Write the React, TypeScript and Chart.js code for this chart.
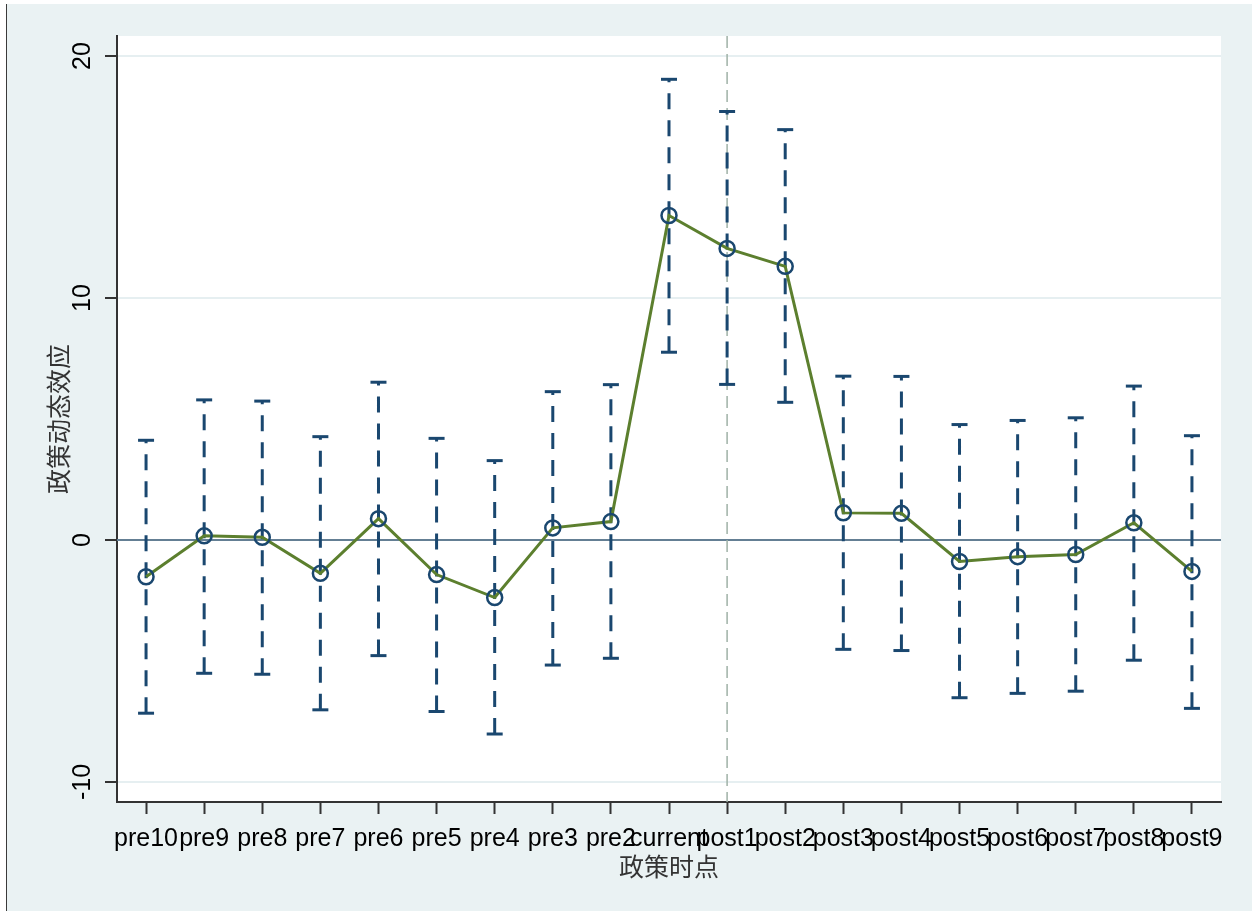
import React, { useEffect, useRef } from 'react';
import { Chart, registerables } from 'chart.js';

Chart.register(...registerables);

// ---- data ----
const categories = [
  'pre10', 'pre9', 'pre8', 'pre7', 'pre6', 'pre5', 'pre4', 'pre3', 'pre2',
  'current', 'post1', 'post2', 'post3', 'post4', 'post5', 'post6', 'post7', 'post8', 'post9',
];
const estimates = [
  -1.52, 0.17, 0.11, -1.38, 0.88, -1.43, -2.38, 0.5, 0.76,
  13.41, 12.05, 11.31, 1.12, 1.1, -0.89, -0.69, -0.6, 0.71, -1.3,
];
const lowerCI = [
  -7.16, -5.51, -5.55, -7.02, -4.78, -7.09, -8.02, -5.17, -4.89,
  7.76, 6.43, 5.69, -4.52, -4.57, -6.52, -6.34, -6.25, -4.97, -6.96,
];
const upperCI = [
  4.12, 5.79, 5.74, 4.27, 6.52, 4.2, 3.28, 6.13, 6.42,
  19.04, 17.71, 16.96, 6.77, 6.76, 4.77, 4.94, 5.05, 6.36, 4.31,
];
const yTickValues = [-10, 0, 10, 20];
const yMin = -10.83;
const yMax = 20.83;
const referenceCategory = 'post1';
const referenceValue = 0;
const xTitle = '政策时点';
const yTitle = '政策动态效应';

// ---- styles ----
const NAVY = '#1a476f';
const GREEN = '#5c7f2e';
const AXIS = '#333333';
const LATIN = '"Liberation Sans", Arial, "DejaVu Sans", sans-serif';
const CJK = '"Noto Sans CJK SC", "Noto Sans", sans-serif';

const plotBgPlugin = {
  id: 'plotBg',
  beforeDraw(chart: any) {
    const { ctx, chartArea: a } = chart;
    ctx.save();
    ctx.fillStyle = '#ffffff';
    ctx.fillRect(a.left, a.top, a.right - a.left, a.bottom - a.top);
    ctx.restore();
  },
};

const refLinesPlugin = {
  id: 'refLines',
  beforeDatasetsDraw(chart: any) {
    const { ctx, chartArea: a, scales } = chart;
    const x = scales.x;
    const y = scales.y;
    const y0 = y.getPixelForValue(referenceValue);
    ctx.save();
    ctx.strokeStyle = '#647f94';
    ctx.lineWidth = 2;
    ctx.beginPath();
    ctx.moveTo(a.left, y0);
    ctx.lineTo(a.right, y0);
    ctx.stroke();
    const xi = x.getPixelForValue(categories.indexOf(referenceCategory));
    ctx.strokeStyle = '#9fb1a6';
    ctx.lineWidth = 1.5;
    ctx.setLineDash([12, 6]);
    ctx.beginPath();
    ctx.moveTo(xi, a.top);
    ctx.lineTo(xi, a.bottom);
    ctx.stroke();
    ctx.restore();
  },
};

export default function App() {
  const canvasRef = useRef<HTMLCanvasElement | null>(null);

  useEffect(() => {
    if (!canvasRef.current) return;
    const ciPoints: any[] = [];
    categories.forEach((c, i) => {
      ciPoints.push({ x: c, y: lowerCI[i] });
      ciPoints.push({ x: c, y: upperCI[i] });
      ciPoints.push({ x: c, y: null });
    });

    const chart = new Chart(canvasRef.current, {
      type: 'line',
      data: {
        labels: categories,
        datasets: [
          {
            label: '估计值',
            data: estimates,
            borderColor: GREEN,
            borderWidth: 3,
            tension: 0,
            pointStyle: 'circle',
            pointRadius: 7.5,
            pointBorderWidth: 2.5,
            pointBorderColor: NAVY,
            pointBackgroundColor: 'rgba(0,0,0,0)',
          },
          {
            label: '置信区间',
            data: ciPoints,
            borderColor: NAVY,
            borderWidth: 3,
            borderDash: [16, 11],
            borderCapStyle: 'butt',
            spanGaps: false,
            pointStyle: 'line',
            pointRadius: 8,
            pointBorderWidth: 3,
            pointBorderColor: NAVY,
            pointBackgroundColor: NAVY,
          } as any,
        ],
      },
      options: {
        responsive: false,
        animation: false,
        events: [],
        layout: { padding: { left: 0, top: 36, right: 31, bottom: 0 } },
        plugins: {
          legend: { display: false },
          tooltip: { enabled: false },
        },
        scales: {
          x: {
            type: 'category',
            offset: true,
            grid: {
              display: true,
              drawOnChartArea: false,
              drawTicks: true,
              tickLength: 12,
              tickColor: AXIS,
              tickWidth: 2,
              offset: false,
            },
            border: { display: true, color: AXIS, width: 2 },
            ticks: {
              autoSkip: false,
              maxRotation: 0,
              minRotation: 0,
              padding: 10,
              color: '#000000',
              font: { family: LATIN, size: 25 },
            },
            title: {
              display: true,
              text: xTitle,
              color: '#333333',
              font: { family: CJK, size: 25 },
              padding: { top: 0, bottom: 30 },
            },
            afterFit(scale: any) {
              scale.height = 109;
            },
          },
          y: {
            type: 'linear',
            min: yMin,
            max: yMax,
            afterBuildTicks(scale: any) {
              scale.ticks = yTickValues.map((v) => ({ value: v }));
            },
            grid: {
              color: '#e6eff1',
              lineWidth: 2,
              drawTicks: true,
              tickLength: 12,
              tickColor: AXIS,
              tickWidth: 2,
            },
            border: { display: true, color: AXIS, width: 2 },
            ticks: {
              minRotation: 90,
              maxRotation: 90,
              crossAlign: 'center',
              padding: 4,
              color: '#000000',
              font: { family: LATIN, size: 25 },
            },
            title: {
              display: true,
              text: yTitle,
              color: '#333333',
              font: { family: CJK, size: 25 },
              padding: { top: 43, bottom: 0 },
            },
            afterFit(scale: any) {
              scale.width = 117;
            },
          },
        },
      } as any,
      plugins: [plotBgPlugin, refLinesPlugin],
    });

    return () => {
      chart.destroy();
    };
  }, []);

  return (
    <div style={{ position: 'absolute', left: 0, top: 0, width: 1252, height: 911, background: '#ffffff', overflow: 'hidden' }}>
      <div
        style={{
          position: 'absolute',
          left: 6,
          top: 4,
          width: 1245,
          height: 907,
          background: '#eaf2f3',
          borderLeft: '1px solid #3a3a3a',
        }}
      />
      <canvas
        ref={canvasRef}
        width={1252}
        height={911}
        style={{ position: 'absolute', left: 0, top: 0, display: 'block' }}
      />
    </div>
  );
}
